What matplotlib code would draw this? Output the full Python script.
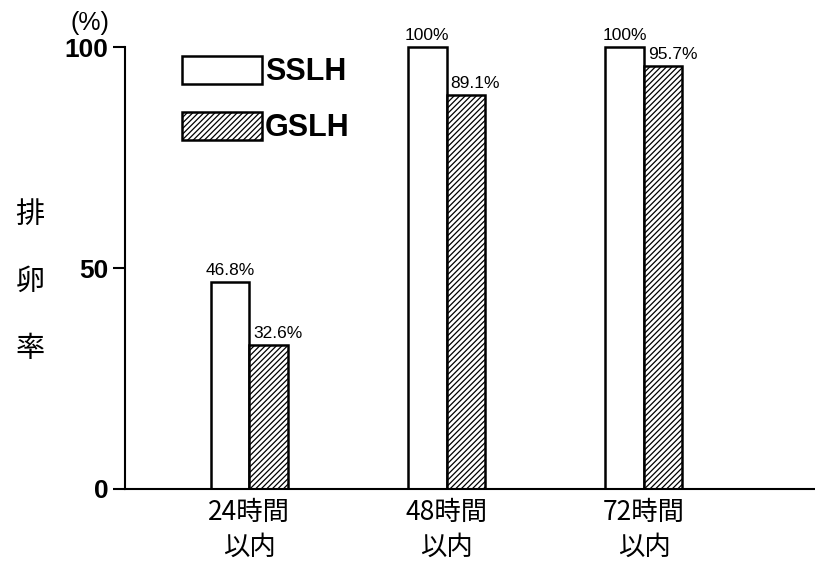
import matplotlib.pyplot as plt
import numpy as np

plt.rcParams['font.family'] = ['Noto Sans CJK JP', 'DejaVu Sans']
plt.rcParams['hatch.linewidth'] = 0.9

groups = ['24時間\n以内', '48時間\n以内', '72時間\n以内']
sslh = [46.8, 100, 100]
gslh = [32.6, 89.1, 95.7]
series_names = ['SSLH', 'GSLH']
ylabel_chars = ['排', '卵', '率']

fig = plt.figure(figsize=(8.15, 5.69), dpi=100)
ax = fig.add_axes([0.1534, 0.1406, 0.8466, 0.823])

x = np.arange(len(groups))
w = 0.195
ax.bar(x - w / 2, sslh, w, color='white', edgecolor='black', linewidth=1.8,
       label=series_names[0])
ax.bar(x + w / 2, gslh, w, color='white', edgecolor='black', linewidth=1.8,
       hatch='//////', label=series_names[1])

label_font = ['Liberation Sans Narrow', 'Liberation Sans', 'DejaVu Sans']
for xi, v in zip(x, sslh):
    ax.text(xi - w / 2, v + 1.0, f'{v:g}%', ha='center', va='bottom',
            fontsize=12.5, family=label_font)
for xi, v in zip(x, gslh):
    ax.text(xi + 0.02, v + 1.0, f'{v:g}%', ha='left', va='bottom',
            fontsize=12.5, family=label_font)

ax.set_xlim(-0.628, 2.866)
ax.set_ylim(0, 106)
ax.set_yticks([0, 50, 100])
ax.set_yticklabels(['0', '50', '100'], fontsize=19, fontweight='bold',
                   family=['Liberation Sans', 'DejaVu Sans'])
ax.set_xticks(x)
ax.set_xticklabels(groups, fontsize=19, linespacing=1.38)
ax.tick_params(axis='x', length=0, pad=7)
ax.tick_params(axis='y', length=9, width=1.5, pad=3)

for s in ['top', 'right']:
    ax.spines[s].set_visible(False)
ax.spines['left'].set_bounds(0, 100)
ax.spines['left'].set_linewidth(1.5)
ax.spines['bottom'].set_linewidth(1.5)

ax.text(-0.022, 0.995, '(%)', transform=ax.transAxes, ha='right', va='center',
        fontsize=18, family=['Liberation Sans', 'DejaVu Sans'])

for i, ch in enumerate(ylabel_chars):
    fig.text(0.037, 0.622 - i * 0.118, ch, ha='center', va='center', fontsize=21)

ax.legend(loc='upper left', bbox_to_anchor=(0.083, 0.925), frameon=False,
          handlelength=2.6, handleheight=1.05, handletextpad=0.1,
          labelspacing=0.8, borderpad=0, borderaxespad=0,
          prop={'family': ['Liberation Sans', 'DejaVu Sans'], 'weight': 'bold', 'size': 22})

fig.savefig('out.png', dpi=100)
